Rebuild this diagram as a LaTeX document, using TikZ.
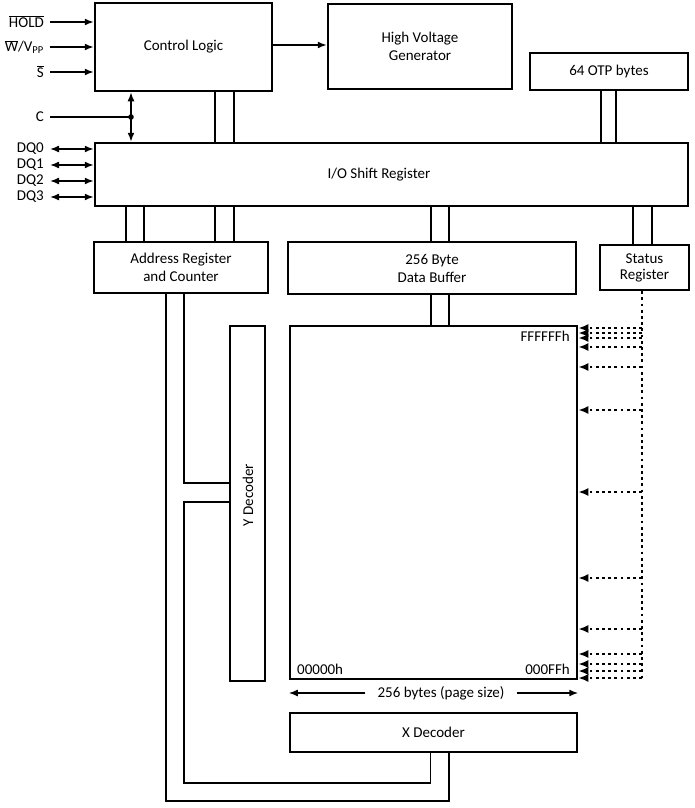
\documentclass[tikz,border=0pt]{standalone}
\usepackage{fontspec}
\setmainfont{Carlito}
\usetikzlibrary{arrows.meta}
\begin{document}
\begin{tikzpicture}[x=1pt,y=-1pt,
  txt/.style={font=\fontsize{15}{18}\selectfont,inner sep=0pt,align=center},
  box/.style={draw,line width=2.5pt,txt},
  bus/.style={line width=1.5pt},
  tip/.tip={Latex[length=9pt,width=7pt]},
  arr/.style={line width=1.5pt,-tip},
  darr/.style={line width=1.5pt,tip-tip},
  dots/.style={line width=2.8pt,dash pattern=on 2.8pt off 3.4pt},
  dotarr/.style={dots,-{Latex[length=10pt,width=8pt]}},
  lbl/.style={txt,anchor=east}
]
\useasboundingbox (0,0) rectangle (694,808);

% boxes
\node[box,minimum width=177pt,minimum height=88pt] (ctrl) at (183.5,47) {Control Logic};
\node[box,minimum width=184pt,minimum height=85pt] (hvg) at (420,46.5) {High Voltage\\Generator};
\node[box,minimum width=158pt,minimum height=37pt] (otp) at (609,71.5) {64 OTP bytes};
\node[box,minimum width=593pt,minimum height=63pt] (io) at (391.5,174.5) {};
\node[txt] (iotext) at (379,175) {I/O Shift Register};
\node[box,minimum width=174pt,minimum height=51pt] (addr) at (181,267.5) {Address Register\\and Counter};
\node[box,minimum width=288pt,minimum height=52pt] (buf) at (432,268) {256 Byte\\Data Buffer};
\node[box,minimum width=89pt,minimum height=45pt,font=\fontsize{15}{16}\selectfont] (sr) at (644.5,267.5) {Status\\Register};
\node[box,minimum width=287pt,minimum height=353pt] (mem) at (433.5,502.5) {};
\node[box,minimum width=35pt,minimum height=355pt] (ydec) at (247.5,503.5) {};
\node[txt,rotate=90] (ytext) at (248,495) {Y Decoder};
\node[box,minimum width=287pt,minimum height=39pt] (xdec) at (433.5,732.5) {X Decoder};

% texts in the array
\node[txt,anchor=east] (ftop) at (570,336) {FFFFFFh};
\node[txt,anchor=west] (zbot) at (297,669) {00000h};
\node[txt,anchor=east] (fbot) at (570,669) {000FFh};
\node[txt] (psize) at (441,693) {256 bytes (page size)};
\draw[arr] (psize.west) ++(-12,0) coordinate (pl) -- (mem.west |- pl);
\draw[arr] (psize.east) ++(12,0) coordinate (pr) -- (mem.east |- pr);

% inputs
\node[lbl] (hold) at (44,22) {\mbox{$\overline{\hbox{HOLD}}$}};
\node[lbl] (wvpp) at (44,47) {\mbox{$\overline{\hbox{W}}$}/V\textsubscript{PP}};
\node[lbl] (sbar) at (44,72) {\mbox{$\overline{\hbox{S}}$}};
\node[lbl] (clk) at (44,117) {C};
\node[lbl] (dq0) at (44,149) {DQ0};
\node[lbl] (dq1) at (44,165) {DQ1};
\node[lbl] (dq2) at (44,181) {DQ2};
\node[lbl] (dq3) at (44,197) {DQ3};

\draw[arr] (hold.east) ++(6,0) -- (ctrl.west |- hold);
\draw[arr] (wvpp.east |- 0,47) ++(6,0) -- (ctrl.west |- 0,47);
\draw[arr] (sbar.east) ++(6,0) -- (ctrl.west |- sbar);
\foreach \d in {dq0,dq1,dq2,dq3}
  \draw[darr] (\d.east) ++(6,0) -- (io.west |- \d);

\coordinate (cdot) at (131,117);
\draw[bus] (clk.east) ++(6,0) -- (cdot);
\fill (cdot) circle (2.8pt);
\draw[darr] (ctrl.south -| cdot) -- (io.north -| cdot);

% control to HVG
\draw[arr] (ctrl.east |- 0,45) -- (hvg.west |- 0,45);

% buses
\foreach \x in {215,234} \draw[bus] (ctrl.south -| \x,0) -- (io.north -| \x,0);
\foreach \x in {601,616} \draw[bus] (otp.south -| \x,0) -- (io.north -| \x,0);
\foreach \x in {126,144,215,234} \draw[bus] (io.south -| \x,0) -- (addr.north -| \x,0);
\foreach \x in {431,449} {
  \draw[bus] (io.south -| \x,0) -- (buf.north -| \x,0);
  \draw[bus] (buf.south -| \x,0) -- (mem.north -| \x,0);
}
\foreach \x in {633,652} \draw[bus] (io.south -| \x,0) -- (sr.north -| \x,0);

% address to decoders
\draw[bus] (addr.south -| 184,0) -- (184,483) -- (ydec.west |- 0,483);
\draw[bus] (ydec.west |- 0,502) -- (184,502) -- (184,783) -- (430.5,783) -- (xdec.south -| 430.5,0);
\draw[bus] (addr.south -| 166,0) -- (166,801) -- (449,801) -- (xdec.south -| 449,0);

% status dotted lines
\coordinate (vb) at (642,680);
\draw[dots] (sr.south -| vb) -- (vb);
\foreach \y in {328,333,338,347,367,410,492,578,629,654,664,671,678}
  \draw[dotarr] (642,\y) -- (mem.east |- 0,\y);
\end{tikzpicture}
\end{document}
